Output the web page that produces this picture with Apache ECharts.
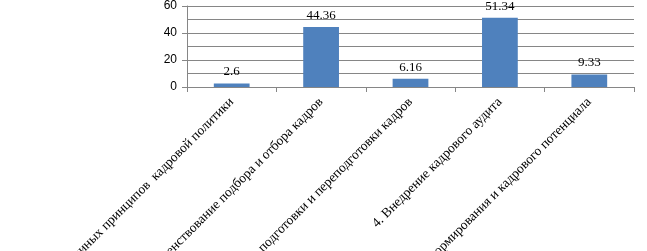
<!DOCTYPE html>
<html><head><meta charset="utf-8">
<script src="https://cdn.jsdelivr.net/npm/echarts@6/dist/echarts.min.js"></script>
<style>html,body{margin:0;padding:0;background:#fff}#c{width:647px;height:251px}</style>
</head><body><div id="c"></div>
<script>
const categories = [
  "1. Разработка единых принципов  кадровой политики",
  "2. Совершенствование подбора и отбора кадров",
  "3. Совершенствование подготовки и переподготовки кадров",
  "4. Внедрение кадрового аудита",
  "5. Совершенствование формирования и кадрового потенциала"
];
const values = [2.6, 44.36, 6.16, 51.34, 9.33];
const yTicks = [0, 20, 40, 60];

const chart = echarts.init(document.getElementById('c'));
chart.setOption({
  animation: false,
  grid: { left: 187, right: 13, top: 6, bottom: 164, containLabel: false, outerBoundsMode: 'none' },
  xAxis: {
    type: 'category',
    data: categories,
    axisLine: { lineStyle: { color: '#868686' } },
    axisTick: { show: true, length: 5, lineStyle: { color: '#868686' } },
    axisLabel: {
      rotate: 45, interval: 0, margin: 13,
      fontFamily: 'Liberation Serif', fontSize: 13.5, color: '#000'
    }
  },
  yAxis: {
    type: 'value', min: yTicks[0], max: yTicks[yTicks.length - 1], interval: 20,
    axisLine: { show: true, lineStyle: { color: '#868686' } },
    axisTick: { show: true, length: 5, lineStyle: { color: '#868686' } },
    axisLabel: { fontFamily: 'Liberation Sans', fontSize: 12, color: '#000', margin: 10 },
    splitLine: { show: true, lineStyle: { color: '#868686' } },
    minorTick: { show: false, splitNumber: 2 },
    minorSplitLine: { show: true, lineStyle: { color: '#868686' } }
  },
  series: [{
    type: 'bar',
    data: values,
    barWidth: '40%',
    itemStyle: { color: '#4F81BD' },
    label: {
      show: true, position: 'top', distance: 5,
      fontFamily: 'Liberation Serif', fontSize: 13, color: '#000'
    }
  }]
});
</script></body></html>
